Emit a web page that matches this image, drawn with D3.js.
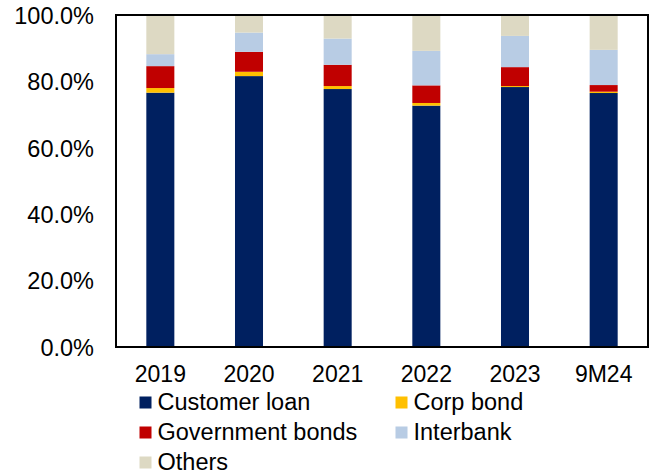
<!DOCTYPE html>
<html>
<head>
<meta charset="utf-8">
<script src="https://cdn.jsdelivr.net/npm/d3@7"></script>
<style>
  html, body { margin: 0; padding: 0; background: #fff; }
  svg { display: block; font-family: Arial, "Liberation Sans", sans-serif; }
</style>
</head>
<body>
<svg id="chart" width="657" height="475"></svg>
<script>
// Asset mix by year (share of total, %)
const categories = ["2019", "2020", "2021", "2022", "2023", "9M24"];
const customerLoan    = [76.6, 81.6, 77.7, 72.7, 78.3, 76.5];
const corpBond        = [1.4, 1.3, 0.9, 0.8, 0.3, 0.4];
const governmentBonds = [6.6, 6.0, 6.4, 5.3, 5.7, 2.0];
const interbank       = [3.6, 5.8, 7.9, 10.4, 9.4, 10.6];
const others          = [11.8, 5.3, 7.1, 10.8, 6.3, 10.5];
const yTicks = [0, 20, 40, 60, 80, 100];

const seriesNames = ["Customer loan", "Corp bond", "Government bonds", "Interbank", "Others"];
const seriesValues = [customerLoan, corpBond, governmentBonds, interbank, others];
const colors = ["#002060", "#FFC000", "#C00000", "#B8CCE4", "#DDD9C3"];

const rows = categories.map((c, i) => {
  const r = { cat: c };
  seriesNames.forEach((s, k) => { r[s] = seriesValues[k][i]; });
  return r;
});

const svg = d3.select("#chart");
const plot = { left: 116, right: 648, top: 15, bottom: 347 };

const x = d3.scaleBand().domain(categories).range([plot.left, plot.right]).paddingInner(0.684).paddingOuter(0.342);
const y = d3.scaleLinear().domain([0, 100]).range([plot.bottom, plot.top]);
const color = d3.scaleOrdinal().domain(seriesNames).range(colors);

const stacked = d3.stack().keys(seriesNames)(rows);

svg.append("g").selectAll("g")
  .data(stacked)
  .join("g")
  .attr("fill", d => color(d.key))
  .selectAll("rect")
  .data(d => d)
  .join("rect")
  .attr("x", d => x(d.data.cat))
  .attr("width", x.bandwidth())
  .attr("y", d => y(Math.min(d[1], 100)))
  .attr("height", d => y(d[0]) - y(Math.min(d[1], 100)));

// Plot frame
svg.append("rect")
  .attr("x", plot.left).attr("y", plot.top)
  .attr("width", plot.right - plot.left).attr("height", plot.bottom - plot.top)
  .attr("fill", "none").attr("stroke", "#000").attr("stroke-width", 2);

// Y axis labels
const yAxis = d3.axisLeft(y).tickValues(yTicks).tickSize(0).tickPadding(22)
  .tickFormat(d => d3.format(".1f")(d) + "%");
svg.append("g").attr("transform", `translate(${plot.left},0)`).call(yAxis)
  .call(g => g.select(".domain").remove())
  .call(g => g.selectAll("text").attr("font-size", 23.5).attr("fill", "#000")
    .attr("font-family", "Arial, 'Liberation Sans', sans-serif").attr("dy", "0.35em"));

// X axis labels
const xAxis = d3.axisBottom(x).tickSize(0).tickPadding(0);
svg.append("g").attr("transform", `translate(0,${plot.bottom})`).call(xAxis)
  .call(g => g.select(".domain").remove())
  .call(g => g.selectAll("text").attr("font-size", 23).attr("fill", "#000")
    .attr("font-family", "Arial, 'Liberation Sans', sans-serif")
    .attr("y", 35).attr("dy", 0));

// Legend: two columns, three rows
const legendCols = [139.5, 395.5];
const legendRows = [396.5, 426.5, 456.5];
const legend = svg.append("g").selectAll("g")
  .data(seriesNames)
  .join("g")
  .attr("transform", (d, i) => `translate(${legendCols[i % 2]},${legendRows[Math.floor(i / 2)]})`);
legend.append("rect").attr("width", 12).attr("height", 12).attr("fill", d => color(d));
legend.append("text").attr("x", 18).attr("y", 13.5)
  .attr("font-size", 23.5).attr("fill", "#000").text(d => d);
</script>
</body>
</html>
